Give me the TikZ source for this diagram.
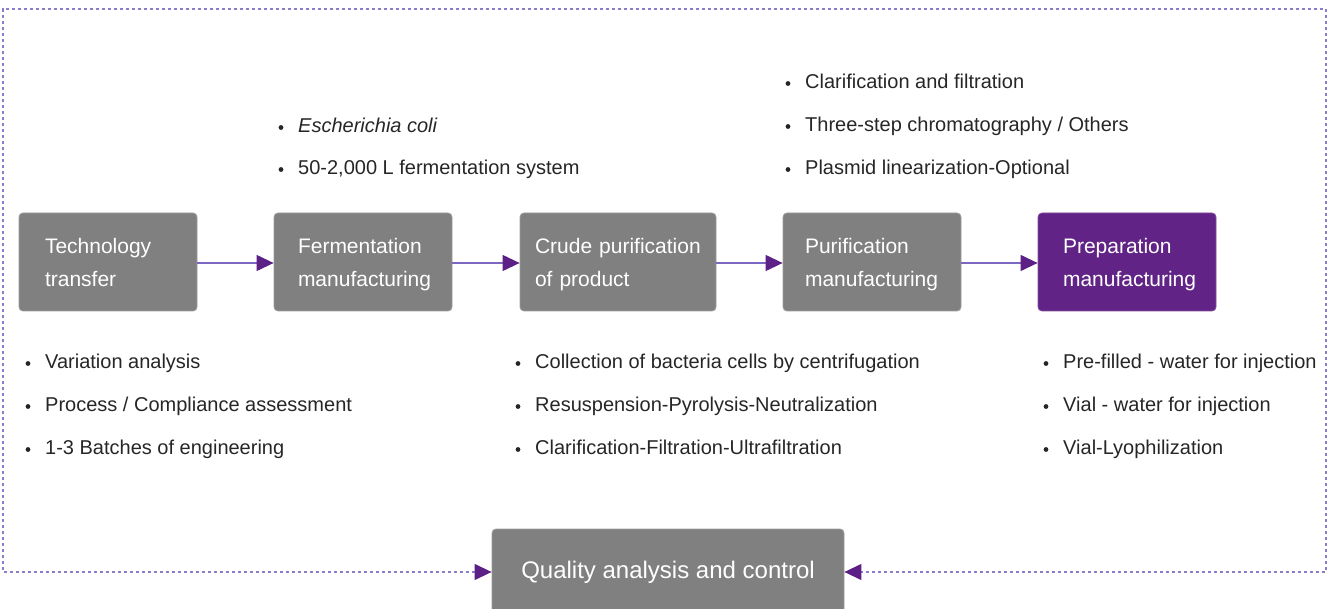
\documentclass[tikz,border=0pt]{standalone}
\usepackage{fontspec}
\setmainfont{Liberation Sans}
\usetikzlibrary{arrows.meta}
\definecolor{boxgray}{HTML}{808080}
\definecolor{boxborder}{HTML}{9C9C9C}
\definecolor{prep}{HTML}{612385}
\definecolor{linecol}{HTML}{7C68C2}
\definecolor{headcol}{HTML}{5C2086}
\definecolor{framecol}{HTML}{8A7DCB}
\definecolor{txt}{HTML}{262626}
\newcommand{\topstrut}{\rule{0pt}{21pt}}
\newcommand{\botstrut}{\rule[-5pt]{0pt}{5pt}}
\tikzset{
  box/.style={draw=boxborder, line width=0.8pt, fill=boxgray, rounded corners=4pt,
    text=white, align=left, font=\fontsize{21pt}{33pt}\selectfont,
    minimum height=98pt, inner ysep=0pt},
  flow/.style={draw=linecol, line width=1.2pt, -{Triangle[length=17pt,width=16pt,color=headcol]}},
  frame/.style={draw=framecol, line width=1.3pt, dash pattern=on 3pt off 3pt,
    {Triangle[length=17pt,width=16pt,color=headcol]}-{Triangle[length=17pt,width=16pt,color=headcol]}},
  item/.style={anchor=base west, inner sep=0pt, text=txt, font=\fontsize{20pt}{24pt}\selectfont},
  bul/.style={fill=txt},
}
\newcommand{\bitem}[4]{%
  \node[item] (#1) at (#2,#3) {#4};
  \fill[bul] ([xshift=-17pt,yshift=5.5pt]#1.base west) circle (2.4pt);
}
\begin{document}
\begin{tikzpicture}[x=1pt,y=-1pt]
\useasboundingbox (0,0) rectangle (1331,609);
\clip (0,0) rectangle (1331,609);
% process boxes
\node[box, text width=126pt, inner xsep=26pt] (b1) at (108,262) {\topstrut Technology\\transfer\botstrut};
\node[box, text width=130pt, inner xsep=24pt] (b2) at (363,262) {\topstrut Fermentation\\manufacturing\botstrut};
\node[box, text width=166pt, inner xsep=15pt] (b3) at (618,262) {\topstrut Crude purification\\of product\botstrut};
\node[box, text width=134pt, inner xsep=22pt] (b4) at (872,262) {\topstrut Purification\\manufacturing\botstrut};
\node[box, fill=prep, draw=prep!80!white, text width=128pt, inner xsep=25pt] (b5) at (1127,262) {\topstrut Preparation\\manufacturing\botstrut};
% quality box
\node[box, font=\fontsize{24pt}{28pt}\selectfont, minimum width=352pt, minimum height=86pt, align=center] (q) at (668,572) {Quality analysis and control};
% flow arrows
\draw[flow] (b1.east |- 0,263) -- (b2.west |- 0,263);
\draw[flow] (b2.east |- 0,263) -- (b3.west |- 0,263);
\draw[flow] (b3.east |- 0,263) -- (b4.west |- 0,263);
\draw[flow] (b4.east |- 0,263) -- (b5.west |- 0,263);
% dotted frame
\coordinate (fbl) at (3,572);
\coordinate (ftl) at (3,9);
\coordinate (ftr) at (1326,9);
\coordinate (fbr) at (1326,572);
\draw[frame] (q.west) -- (fbl) -- (ftl) -- (ftr) -- (fbr) -- (q.east);
% top lists
\bitem{t1}{298}{133}{\textit{Escherichia coli}}
\bitem{t2}{298}{175}{50-2,000 L fermentation system}
\bitem{u1}{805}{89}{Clarification and filtration}
\bitem{u2}{805}{132}{Three-step chromatography / Others}
\bitem{u3}{805}{175}{Plasmid linearization-Optional}
% bottom lists
\bitem{a1}{45}{369}{Variation analysis}
\bitem{a2}{45}{412}{Process / Compliance assessment}
\bitem{a3}{45}{455}{1-3 Batches of engineering}
\bitem{c1}{535}{369}{Collection of bacteria cells by centrifugation}
\bitem{c2}{535}{412}{Resuspension-Pyrolysis-Neutralization}
\bitem{c3}{535}{455}{Clarification-Filtration-Ultrafiltration}
\bitem{e1}{1063}{369}{Pre-filled - water for injection}
\bitem{e2}{1063}{412}{Vial - water for injection}
\bitem{e3}{1063}{455}{Vial-Lyophilization}
\end{tikzpicture}
\end{document}
